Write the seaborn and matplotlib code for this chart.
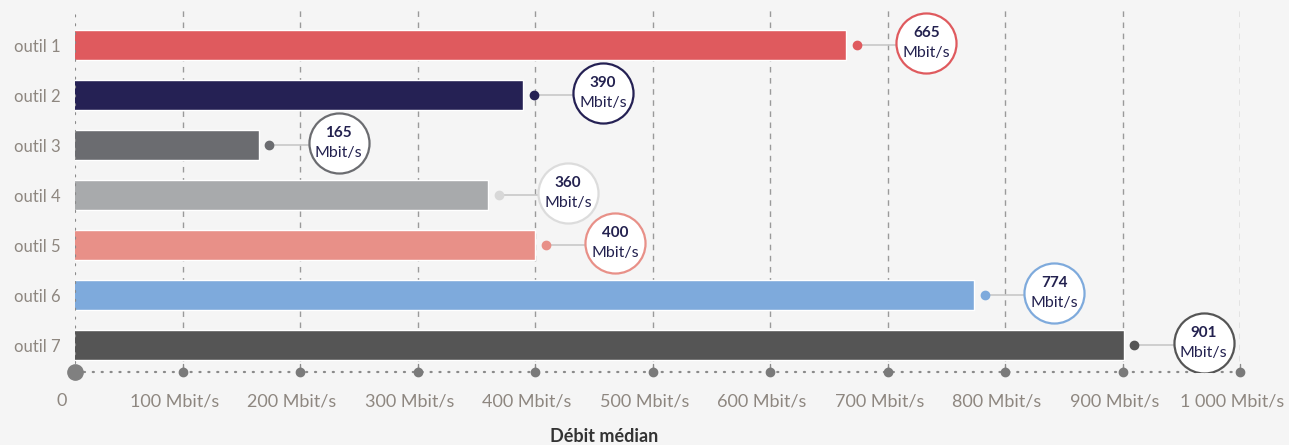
import matplotlib
matplotlib.use("Agg")
import matplotlib.pyplot as plt
import matplotlib.transforms as mtrans
import seaborn as sns
import pandas as pd

# données
outils = ["outil 1", "outil 2", "outil 3", "outil 4", "outil 5", "outil 6", "outil 7"]
debits = [665, 390, 165, 360, 400, 774, 901]
couleurs = ["#df5a5e", "#252154", "#6b6c70", "#a8aaac", "#e89088", "#7eaadc", "#555555"]
bords = ["#df5a5e", "#252154", "#6b6c70", "#dcdcdc", "#e89088", "#7eaadc", "#555555"]
ticks = [0, 100, 200, 300, 400, 500, 600, 700, 800, 900, 1000]
tick_labels = ["0"] + [f"{t} Mbit/s" for t in range(100, 1000, 100)] + ["1 000 Mbit/s"]

df = pd.DataFrame({"outil": outils, "debit": debits})

sns.set_style("white")
plt.rcParams["font.family"] = ["Lato", "DejaVu Sans"]

fig = plt.figure(figsize=(12.89, 4.45), dpi=100, facecolor="#f5f5f5")
ax = fig.add_axes([75 / 1289, 73 / 445, 1165 / 1289, 364 / 445])
ax.set_facecolor("#f5f5f5")

sns.barplot(data=df, x="debit", y="outil", hue="outil", palette=couleurs,
            width=0.6, legend=False, ax=ax, saturation=1, zorder=3)

x0 = 8.5
ax.set_xlim(x0, 1000)
ax.set_ylim(6.54, -0.74)

# grille en tirets
for t in ticks[1:]:
    ax.axvline(t, color="#9a9a9a", lw=1, ls=(0, (4, 4)), zorder=1)

for s in ax.spines.values():
    s.set_visible(False)
ax.axvline(x0, color="#8a8a8a", lw=1.6, ls=(0, (0.5, 3.5)), dash_capstyle="round", zorder=4)
ax.axhline(6.54, color="#8a8a8a", lw=1.6, ls=(0, (0.5, 3.5)), dash_capstyle="round",
           clip_on=False, zorder=4)
ax.plot(ticks[1:], [6.54] * 10, "o", color="#7a7a7a", ms=6, clip_on=False, zorder=5)
ax.plot([x0], [6.54], "o", color="#808080", ms=11, clip_on=False, zorder=5)
for t in ticks[1:]:
    ax.plot([t, t], [6.54, 6.38], color="#8a8a8a", lw=1, clip_on=False, zorder=4)

# étiquettes
for i, (v, c, b) in enumerate(zip(debits, couleurs, bords)):
    ax.plot([v + 9, v + 68], [i, i], color="#c8c8c8", lw=1.2, zorder=4)
    ax.plot([v + 9], [i], "o", color=c if i != 3 else "#d8d8d8", ms=6, zorder=5)
    ax.scatter([v + 68], [i - 0.04], s=1870, facecolor="white", edgecolor=b, linewidth=1.6, zorder=6)
    ax.text(v + 68, i - 0.24, f"{v}", ha="center", va="center", fontsize=11,
            fontweight="bold", color="#23214f", zorder=7)
    ax.text(v + 68, i + 0.15, "Mbit/s", ha="center", va="center", fontsize=11.5,
            color="#23214f", zorder=7)

# libellés de l'axe x (décalés vers la gauche)
ax.set_xticks([])
for t, lab in zip(ticks, tick_labels):
    dx = -3 if t == 0 else -8
    trans = ax.get_xaxis_transform() + mtrans.ScaledTranslation(dx / 100, 0, fig.dpi_scale_trans)
    ax.text(t, -0.08, lab, transform=trans, ha="center", va="center", fontsize=13,
            color="#8e8780", clip_on=False)
ax.tick_params(axis="y", length=0, pad=10, labelsize=12, labelcolor="#8e8780")
ax.set_ylabel("")
ax.set_xlabel("")
fig.text(604 / 1289, 8 / 445, "Débit médian", ha="center", va="center", fontsize=13,
         fontweight="bold", color="#333333")

fig.savefig("out.png", dpi=100, facecolor="#f5f5f5")
